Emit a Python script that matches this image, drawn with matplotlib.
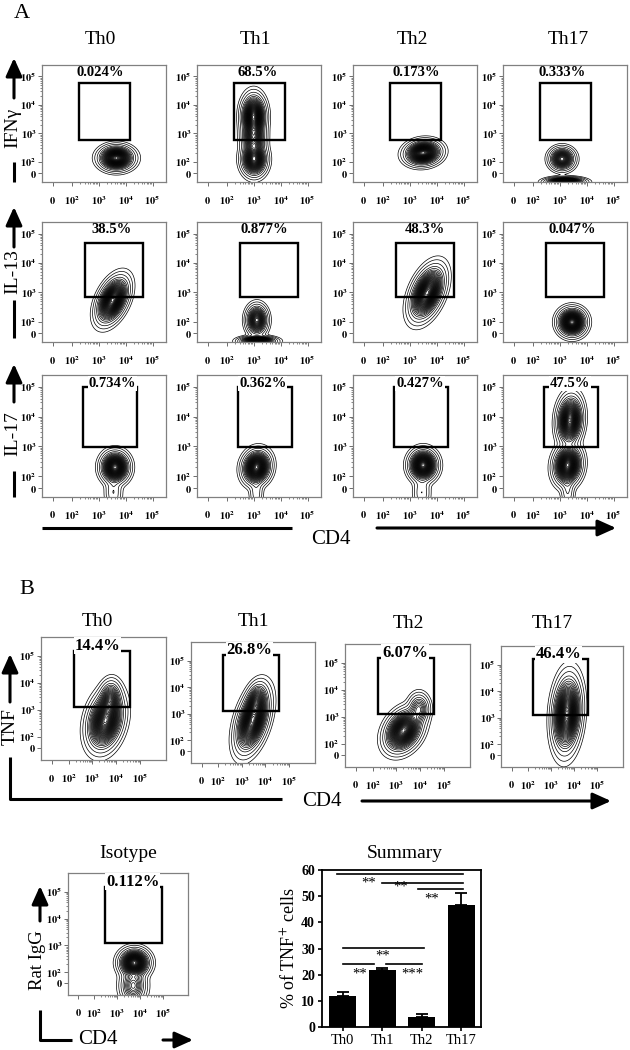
import numpy as np
import matplotlib
matplotlib.use('Agg')
import matplotlib.pyplot as plt
from matplotlib.patches import Rectangle, FancyArrowPatch
from matplotlib.lines import Line2D

plt.rcParams['font.family'] = ['Liberation Serif', 'DejaVu Serif']
plt.rcParams['mathtext.fontset'] = 'stix'

W, H = 630, 1050

# ---------------- data ----------------
groups = ['Th0', 'Th1', 'Th2', 'Th17']
markers_A = ['IFNγ', 'IL-13', 'IL-17']

pct_A = [['0.024%', '68.5%', '0.173%', '0.333%'],
         ['38.5%', '0.877%', '48.3%', '0.047%'],
         ['0.734%', '0.362%', '0.427%', '47.5%']]
pct_B = ['14.4%', '26.8%', '6.07%', '46.4%']
pct_iso = '0.112%'

# populations: (cx, cy, sx, sy, weight, rho) in log10 units
blobs_A = [
    [[(3.66, 2.14, 0.27, 0.18, 1.0, 0.0)],
     [(3.0, 3.6, 0.19, 0.32, 1.0, 0.0), (3.0, 2.85, 0.19, 0.3, 0.55, 0.0),
      (3.02, 2.1, 0.2, 0.25, 0.85, 0.0)],
     [(3.5, 2.32, 0.28, 0.18, 1.0, 0.1)],
     [(3.09, 2.11, 0.2, 0.17, 1.0, 0.0), (3.2, 1.3, 0.3, 0.07, 1.6, 0.0)]],
    [[(3.52, 2.73, 0.25, 0.33, 1.0, 0.45)],
     [(3.12, 2.05, 0.17, 0.22, 1.0, 0.0), (3.15, 1.33, 0.28, 0.07, 1.6, 0.0)],
     [(3.65, 2.98, 0.27, 0.38, 1.0, 0.45)],
     [(3.46, 1.98, 0.22, 0.2, 1.0, 0.0)]],
    [[(3.61, 2.3, 0.22, 0.22, 1.0, 0.0), (3.55, 1.45, 0.15, 0.3, 0.06, 0.0)],
     [(3.11, 2.3, 0.22, 0.24, 1.0, 0.1), (3.1, 1.45, 0.12, 0.3, 0.05, 0.0)],
     [(3.5, 2.37, 0.22, 0.22, 1.0, 0.0), (3.45, 1.45, 0.15, 0.3, 0.06, 0.0)],
     [(3.38, 3.88, 0.2, 0.35, 0.9, 0.1), (3.3, 2.37, 0.22, 0.28, 1.0, 0.1),
      (3.3, 1.5, 0.12, 0.3, 0.06, 0.0)]],
]
blobs_B = [
    [(3.55, 2.6, 0.32, 0.45, 1.0, 0.25), (3.75, 3.4, 0.2, 0.3, 0.35, 0.1)],
    [(3.45, 2.75, 0.3, 0.5, 1.0, 0.45), (3.6, 3.5, 0.2, 0.3, 0.3, 0.3)],
    [(3.3, 2.5, 0.33, 0.33, 1.0, 0.3), (3.95, 3.3, 0.2, 0.25, 0.25, 0.0)],
    [(3.68, 3.15, 0.26, 0.6, 1.0, 0.15)],
]
blobs_iso = [(3.75, 2.35, 0.28, 0.22, 1.0, 0.0), (3.7, 1.5, 0.25, 0.3, 0.3, 0.0)]

# gates (x0, x1, y0, y1)
gates_A = [[(2.28, 4.17, 2.78, 4.77)] * 4,
           [(2.51, 4.63, 2.84, 4.68)] * 4,
           [(2.42, 4.44, 2.98, 4.99)] * 4]
gates_B = [(2.21, 4.57, 3.1, 5.2)] * 4
gate_iso = (2.47, 4.94, 3.1, 5.18)

# summary bar chart
summary_mean = [12.0, 21.8, 3.9, 46.6]
summary_err = [1.5, 0.9, 0.9, 4.5]
sig_lines = [(-0.15, 3.05, 58.5), (1.0, 3.05, 55.2), (1.9, 3.05, 52.7),
             (0.0, 2.05, 30.1), (0.0, 0.8, 24.0), (1.1, 2.0, 24.0)]
sig_text = [('**', 0.66, 55.2), ('**', 1.47, 53.6), ('**', 2.25, 49.0),
            ('**', 1.0, 27.2), ('**', 0.43, 20.4), ('***', 1.75, 20.4)]

tick_pos = [1.3, 2, 3, 4, 5]
ytick_pos = [1.6, 2, 3, 4, 5]
tick_lab = [r'$\mathbf{0}$', r'$\mathbf{10^2}$', r'$\mathbf{10^3}$',
            r'$\mathbf{10^4}$', r'$\mathbf{10^5}$']

fig = plt.figure(figsize=(W / 100, H / 100), dpi=100)


def add_ax(left, top, w, h):
    return fig.add_axes([left / W, 1 - (top + h) / H, w / W, h / H])


def ftext(x, y, s, **kw):
    fig.text(x / W, 1 - y / H, s, ha='center', va='center', **kw)


def seg(xs, ys):
    fig.add_artist(Line2D([x / W for x in xs], [1 - y / H for y in ys],
                          transform=fig.transFigure, color='k', lw=2.2,
                          solid_capstyle='butt'))


def arrow(x0, y0, x1, y1):
    fig.add_artist(FancyArrowPatch((x0 / W, 1 - y0 / H), (x1 / W, 1 - y1 / H),
                                   transform=fig.transFigure,
                                   arrowstyle='-|>,head_length=1.0,head_width=0.45',
                                   mutation_scale=11, lw=2.2, color='k',
                                   shrinkA=0, shrinkB=0))


levels = np.r_[0.004, 0.012, 0.03, np.linspace(0.06, 0.98, 30)]
minor = np.log10(np.outer(10.0 ** np.arange(2, 5), np.arange(2, 10)).ravel())


def flow(rect, xlim, ylim, blobs, gate, pct, pxy, psize, cover):
    ax = add_ax(*rect)
    X, Y = np.meshgrid(np.linspace(*xlim, 260), np.linspace(*ylim, 260))
    Z = np.zeros_like(X)
    for cx, cy, sx, sy, w, r in blobs:
        dx = (X - cx) / sx
        dy = (Y - cy) / sy
        Z += w * np.exp(-(dx * dx - 2 * r * dx * dy + dy * dy) / (2 * (1 - r * r)))
    Z /= Z.max()
    ax.contour(X, Y, Z, levels=levels, colors='k', linewidths=0.5)
    ax.add_patch(Rectangle((gate[0], gate[2]), gate[1] - gate[0], gate[3] - gate[2],
                           fill=False, lw=1.7, ec='k', zorder=3))
    bb = dict(fc='white', ec='none', pad=0.5) if cover else None
    ax.text(pxy[0], pxy[1], pct, transform=ax.transAxes, ha='center', va='center',
            fontsize=psize, fontweight='bold', bbox=bb, zorder=4)
    ax.set_xlim(xlim)
    ax.set_ylim(ylim)
    ax.set_xticks(tick_pos)
    ax.set_xticklabels(tick_lab)
    ax.set_yticks(ytick_pos)
    ax.set_yticklabels(tick_lab)
    ax.set_xticks(minor, minor=True)
    ax.set_yticks(minor[minor < 4.99], minor=True)
    ax.tick_params(which='major', length=3, width=0.6, color='#555555', labelsize=7.5)
    ax.tick_params(which='minor', length=1.5, width=0.5, color='#555555')
    ax.tick_params(axis='x', which='major', pad=6)
    ax.tick_params(axis='y', which='major', pad=1)
    for s in ax.spines.values():
        s.set_color('#808080')
        s.set_linewidth(0.9)
    return ax


# ---------------- panel A ----------------
xA, yA = (0.9, 5.5), (1.3, 5.4)
lefts_A = [42, 197, 353, 503]
tops_A = [65, 222, 375]
heights_A = [117, 120, 122]
pct_y_A = [0.94, 0.94, 0.93]
pct_x_A = [[0.47, 0.49, 0.51, 0.48], [0.56, 0.54, 0.58, 0.56], [0.57, 0.53, 0.54, 0.54]]
for r in range(3):
    for c in range(4):
        flow((lefts_A[c], tops_A[r], 124, heights_A[r]), xA, yA, blobs_A[r][c],
             gates_A[r][c], pct_A[r][c], (pct_x_A[r][c], pct_y_A[r]), 10.5, r == 2)

for x, g in zip([100, 255, 412, 568], groups):
    ftext(x, 40, g, fontsize=14)
ftext(22, 14, 'A', fontsize=16)

# y-axis marker labels with arrows
for (tip, top_end, mid, lo0, lo1), m in zip([(58, 98, 128, 162, 182),
                                             (207, 247, 272, 300, 338),
                                             (364, 402, 434, 471, 497)], markers_A):
    arrow(14, top_end, 14, tip)
    ftext(13, mid, m, fontsize=14, rotation=90)
    seg([14, 14], [lo0, lo1])

seg([42, 292], [528, 528])
ftext(331, 540, 'CD4', fontsize=15)
arrow(377, 528, 616, 528)

# ---------------- panel B ----------------
xB, yB = (0.84, 6.1), (1.15, 5.7)
rects_B = [(41, 637, 125, 123), (191, 642, 124, 121), (345, 644, 125, 123), (501, 646, 122, 121)]
pct_x_B = [0.45, 0.47, 0.48, 0.47]
for c in range(4):
    flow(rects_B[c], xB, yB, blobs_B[c], gates_B[c], pct_B[c], (pct_x_B[c], 0.93), 12, True)
for x, y, g in zip([97, 253, 408, 552], [622, 622, 623, 623], groups):
    ftext(x, y, g, fontsize=14)
ftext(27, 590, 'B', fontsize=16)

arrow(10, 702, 10, 654)
ftext(10, 727, 'TNF', fontsize=14, rotation=90)
seg([10, 10, 282], [757, 799, 799])
ftext(322, 802, 'CD4', fontsize=15)
arrow(362, 801, 611, 801)

# isotype control
flow((68, 873, 120, 122), xB, yB, blobs_iso, gate_iso, pct_iso, (0.54, 0.93), 12, True)
ftext(128, 853, 'Isotype', fontsize=14)
arrow(40, 921, 40, 886)
ftext(37, 960, 'Rat IgG', fontsize=13.5, rotation=90)
seg([40, 40, 72], [1010, 1040, 1040])
ftext(98, 1040, 'CD4', fontsize=15)
arrow(163, 1040, 193, 1040)

# ---------------- summary ----------------
ax = add_ax(322, 870, 159, 157)
xs = np.arange(len(groups))
ax.bar(xs, summary_mean, width=0.68, color='k')
ax.errorbar(xs, summary_mean, yerr=[np.zeros(len(xs)), summary_err], fmt='none',
            ecolor='k', elinewidth=1.3, capsize=4, capthick=1.3)
for x0, x1, y in sig_lines:
    ax.plot([x0, x1], [y, y], color='k', lw=1.2)
for s, x, y in sig_text:
    ax.text(x, y, s, ha='center', va='center', fontsize=10.5)
ax.set_xlim(-0.53, 3.5)
ax.set_ylim(0, 60)
ax.set_yticks(range(0, 61, 10))
ax.set_xticks(xs)
ax.set_xticklabels(groups, fontsize=10.5)
for lab in ax.get_yticklabels():
    lab.set_fontweight('bold')
    lab.set_fontsize(10)
ax.tick_params(length=3, width=1.2, pad=2)
for s in ax.spines.values():
    s.set_linewidth(1.3)
ax.set_ylabel(r'% of TNF$^{+}$ cells', fontsize=13, labelpad=2)
ftext(405, 853, 'Summary', fontsize=14)

fig.savefig('out.png', dpi=100)
